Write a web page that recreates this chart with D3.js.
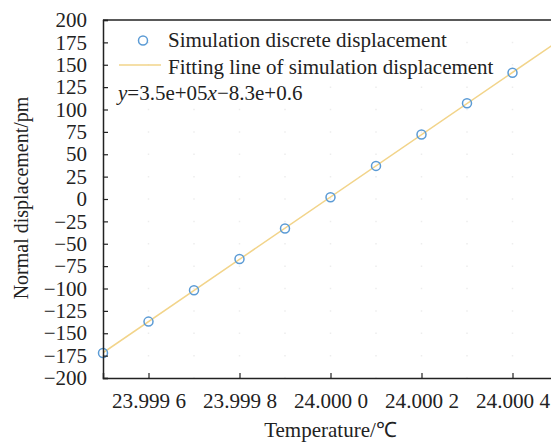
<!DOCTYPE html>
<html>
<head>
<meta charset="utf-8">
<script src="https://cdn.jsdelivr.net/npm/d3@7"></script>
<style>
  body { margin: 0; background: #fff; }
  svg text { font-family: "Liberation Serif", "Times New Roman", serif; fill: #222; }
</style>
</head>
<body>
<div id="chart"></div>
<script>
// temperature (degC) and simulated normal displacement (pm)
var temperature = [23.9995, 23.9996, 23.9997, 23.9998, 23.9999, 24.0000, 24.0001, 24.0002, 24.0003, 24.0004];
var displacement = [-172, -137, -102, -67, -33, 2, 37, 72, 107, 141];
var xTicks = [23.9996, 23.9998, 24.0000, 24.0002, 24.0004];
var xTickLabels = ["23.999 6", "23.999 8", "24.000 0", "24.000 2", "24.000 4"];
var yTicks = d3.range(-200, 201, 25);
var legendLabels = ["Simulation discrete displacement", "Fitting line of simulation displacement"];

var serif = "'Liberation Serif', 'Times New Roman', serif";
var width = 551, height = 443;
var margin = {top: 20, left: 103, bottom: 65};
var plotRight = 558;

var svg = d3.select("#chart").append("svg")
  .attr("width", width)
  .attr("height", height);

var x = d3.scaleLinear()
  .domain([23.9995, 24.0005])
  .range([margin.left, plotRight]);

var y = d3.scaleLinear()
  .domain([-200, 200])
  .range([height - margin.bottom, margin.top]);

// faint dotted grid at tick crossings
var gridX = d3.range(0, 11).map(function(i) { return 23.9995 + i * 0.0001; });
var step = y(0) - y(25);
svg.append("g")
  .selectAll("line")
  .data(gridX)
  .enter().append("line")
  .attr("x1", function(d) { return x(d); })
  .attr("x2", function(d) { return x(d); })
  .attr("y1", y(200))
  .attr("y2", y(-200))
  .attr("stroke", "#ededed")
  .attr("stroke-width", 1.5)
  .attr("stroke-dasharray", "1.5," + (step - 1.5))
  .attr("stroke-dashoffset", 0.75);

// least squares fit
var n = temperature.length;
var mx = d3.mean(temperature), my = d3.mean(displacement);
var sxy = 0, sxx = 0;
for (var i = 0; i < n; i++) {
  sxy += (temperature[i] - mx) * (displacement[i] - my);
  sxx += (temperature[i] - mx) * (temperature[i] - mx);
}
var slope = sxy / sxx;
var intercept = my - slope * mx;

svg.append("defs").append("clipPath").attr("id", "clip")
  .append("rect")
  .attr("x", margin.left).attr("y", margin.top)
  .attr("width", plotRight - margin.left)
  .attr("height", y(-200) - y(200));

var fitX = [temperature[0], 24.0005];
svg.append("path")
  .datum(fitX)
  .attr("clip-path", "url(#clip)")
  .attr("fill", "none")
  .attr("stroke", "#f2d48a")
  .attr("stroke-width", 1.5)
  .attr("d", d3.line()
    .x(function(d) { return x(d); })
    .y(function(d) { return y(slope * d + intercept); }));

// points
svg.append("g")
  .selectAll("circle")
  .data(temperature)
  .enter().append("circle")
  .attr("cx", function(d) { return x(d); })
  .attr("cy", function(d, i) { return y(displacement[i]); })
  .attr("r", 4.5)
  .attr("fill", "none")
  .attr("stroke", "#5b9bd5")
  .attr("stroke-width", 1.5);

// axes
var yAxis = svg.append("g")
  .attr("transform", "translate(" + margin.left + ",0)")
  .call(d3.axisRight(y).tickValues(yTicks).tickSize(5)
    .tickFormat(function(d) { return d < 0 ? "\u2212" + Math.abs(d) : d; }));
yAxis.selectAll("text")
  .attr("x", -16)
  .attr("text-anchor", "end")
  .style("font-family", serif)
  .style("font-size", "21px");

var xAxis = svg.append("g")
  .attr("transform", "translate(0," + y(-200) + ")")
  .call(d3.axisTop(x).tickValues(xTicks).tickSize(5)
    .tickFormat(function(d, i) { return xTickLabels[i]; }));
xAxis.selectAll("text")
  .attr("y", 30)
  .attr("dy", 0)
  .attr("textLength", 74)
  .attr("lengthAdjust", "spacingAndGlyphs")
  .style("font-family", serif)
  .style("font-size", "21px");

svg.selectAll(".domain").attr("stroke", "#222").attr("stroke-width", 1.5);
svg.selectAll(".tick line").attr("stroke", "#222").attr("stroke-width", 1.2);

// top border
svg.append("line")
  .attr("x1", margin.left).attr("x2", plotRight)
  .attr("y1", y(200)).attr("y2", y(200))
  .attr("stroke", "#222").attr("stroke-width", 1.5);

// axis titles
svg.append("text")
  .attr("x", x(24.0000))
  .attr("y", 437)
  .attr("text-anchor", "middle")
  .style("font-size", "21px")
  .text("Temperature/\u2103");

svg.append("text")
  .attr("transform", "translate(28," + (y(0) - 1) + ") rotate(-90)")
  .attr("text-anchor", "middle")
  .style("font-size", "20px")
  .text("Normal displacement/pm");

// legend
var legend = svg.append("g");
legend.append("circle")
  .attr("cx", 143).attr("cy", 40.5).attr("r", 4.5)
  .attr("fill", "none").attr("stroke", "#5b9bd5").attr("stroke-width", 1.5);
legend.append("line")
  .attr("x1", 119).attr("x2", 161).attr("y1", 65).attr("y2", 65)
  .attr("stroke", "#f2d48a").attr("stroke-width", 1.5);
legend.selectAll("text.lab")
  .data(legendLabels)
  .enter().append("text")
  .attr("class", "lab")
  .attr("x", 168)
  .attr("y", function(d, i) { return 47 + i * 26.5; })
  .style("font-size", "21px")
  .text(function(d) { return d; });

var eq = legend.append("text")
  .attr("x", 118).attr("y", 100)
  .style("font-size", "21px");
eq.append("tspan").style("font-style", "italic").text("y");
eq.append("tspan").text("=3.5e+05");
eq.append("tspan").style("font-style", "italic").text("x");
eq.append("tspan").text("\u22128.3e+0.6");
</script>
</body>
</html>
